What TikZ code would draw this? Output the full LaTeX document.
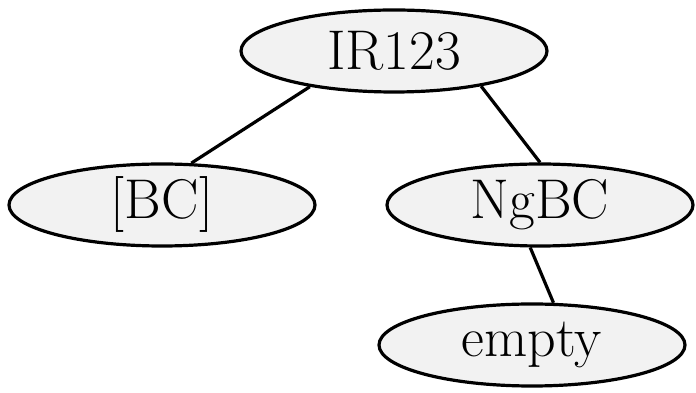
\documentclass[tikz,border=0pt]{standalone}
\usepackage{tikz}
\usetikzlibrary{shapes.geometric}

\begin{document}
\begin{tikzpicture}[x=1pt, y=1pt, line width=3.2pt,
    knoten/.style={ellipse, draw, fill=black!5, minimum width=306pt,
        minimum height=82pt, inner sep=0pt,
        font=\fontsize{56}{56}\selectfont}]
    \useasboundingbox (0, 0) rectangle (696, 393);

    % 节点
    \node[knoten] (ir) at (394, 342) {IR123};
    \node[knoten] (bc) at (162, 188) {[BC]};
    \node[knoten] (ngbc) at (540, 188) {NgBC};
    \node[knoten] (empty) at (532, 48) {empty};

    % 连线
    \draw (ir.203) -- (bc.55);
    \draw (ir.338) -- (ngbc.90);
    \draw (ngbc.257) -- (empty.63);
\end{tikzpicture}
\end{document}
